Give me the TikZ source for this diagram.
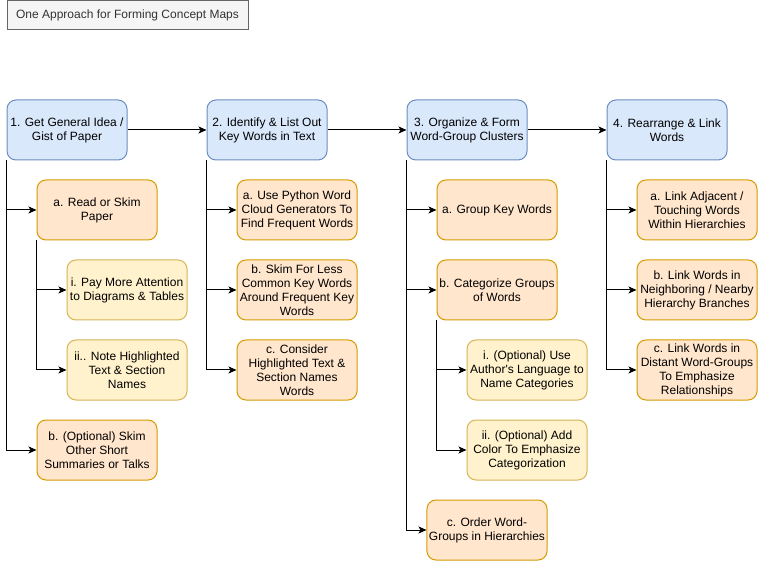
\documentclass[tikz,border=0pt]{standalone}
\usepackage{fontspec}
\newfontfamily\dfont{Liberation Sans}
\usetikzlibrary{arrows.meta}
\definecolor{bluef}{HTML}{DAE8FC}\definecolor{blued}{HTML}{6C8EBF}
\definecolor{orf}{HTML}{FFE6CC}\definecolor{ord}{HTML}{D79B00}
\definecolor{yef}{HTML}{FFF2CC}\definecolor{yed}{HTML}{D6B656}
\definecolor{grf}{HTML}{F5F5F5}\definecolor{grd}{HTML}{666666}
\definecolor{txt}{HTML}{333333}
\begin{document}
\begin{tikzpicture}[x=1pt,y=-1pt,
 box/.style={rounded corners=9pt, minimum width=120pt, minimum height=60pt, align=center, inner sep=2pt, font=\dfont\fontsize{12}{14}\selectfont, line width=1pt, text=black},
 mainbox/.style={box, fill=bluef, draw=blued},
 subbox/.style={box, fill=orf, draw=ord},
 subsub/.style={box, fill=yef, draw=yed},
 titlebox/.style={fill=grf, draw=grd, line width=1pt, minimum width=241pt, minimum height=29pt, font=\dfont\fontsize{12}{14}\selectfont, text=txt},
 conn/.style={line width=1pt, -{Stealth[length=8pt,width=7pt,inset=2pt]}},
 plain/.style={line width=1pt}
]
\useasboundingbox (0,0) rectangle (758,561);
\fill[white] (0,0) rectangle (758,561);
\node[titlebox] (t) at (127.5,15.5) {One Approach for Forming Concept Maps};

\node[mainbox] (m1) at (67,130) {1. Get General Idea /\\Gist of Paper};
\node[mainbox] (m2) at (267,130) {2. Identify \& List Out\\Key Words in Text};
\node[mainbox] (m3) at (467,130) {3. Organize \& Form\\Word-Group Clusters};
\node[mainbox] (m4) at (667,130) {4. Rearrange \& Link\\Words};

\node[subbox] (a1) at (97,210) {a. Read or Skim\\Paper};
\node[subsub] (a1i) at (127,290) {i. Pay More Attention\\to Diagrams \& Tables};
\node[subsub] (a1ii) at (127,370) {ii.. Note Highlighted\\Text \& Section\\Names};
\node[subbox] (b1) at (97,450) {b. (Optional) Skim\\Other Short\\Summaries or Talks};

\node[subbox] (a2) at (297,210) {a. Use Python Word\\Cloud Generators To\\Find Frequent Words};
\node[subbox] (b2) at (297,290) {b. Skim For Less\\Common Key Words\\Around Frequent Key\\Words};
\node[subbox] (c2) at (297,370) {c. Consider\\Highlighted Text \&\\Section Names\\Words};

\node[subbox] (a3) at (497,210) {a. Group Key Words};
\node[subbox] (b3) at (497,290) {b. Categorize Groups\\of Words};
\node[subsub] (b3i) at (527,370) {i. (Optional) Use\\Author's Language to\\Name Categories};
\node[subsub] (b3ii) at (527,450) {ii. (Optional) Add\\Color To Emphasize\\Categorization};
\node[subbox] (c3) at (487,530) {c. Order Word-\\Groups in Hierarchies};

\node[subbox] (a4) at (697,210) {a. Link Adjacent /\\Touching Words\\Within Hierarchies};
\node[subbox] (b4) at (697,290) {b. Link Words in\\Neighboring / Nearby\\Hierarchy Branches};
\node[subbox] (c4) at (697,370) {c. Link Words in\\Distant Word-Groups\\To Emphasize\\Relationships};

\draw[conn] (m1) -- (m2);
\draw[conn] (m2) -- (m3);
\draw[conn] (m3) -- (m4);

\draw[conn] (m1.south west) |- (a1.west);
\draw[conn] (m1.south west) |- (b1.west);
\draw[conn] (a1.south west) |- (a1i.west);
\draw[conn] (a1.south west) |- (a1ii.west);

\draw[conn] (m2.south west) |- (a2.west);
\draw[conn] (m2.south west) |- (b2.west);
\draw[conn] (m2.south west) |- (c2.west);

\draw[conn] (m3.south west) |- (a3.west);
\draw[conn] (m3.south west) |- (b3.west);
\draw[conn] (m3.south west) |- (c3.west);
\draw[conn] (b3.south west) |- (b3i.west);
\draw[conn] (b3.south west) |- (b3ii.west);

\draw[conn] (m4.south west) |- (a4.west);
\draw[conn] (m4.south west) |- (b4.west);
\draw[conn] (m4.south west) |- (c4.west);
\end{tikzpicture}
\end{document}
